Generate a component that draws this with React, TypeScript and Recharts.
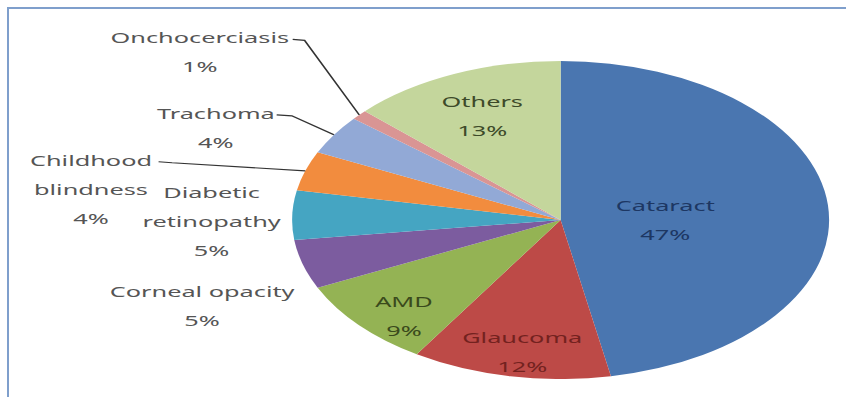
import React from "react";
import { PieChart, Pie, Cell } from "recharts";

// Causes of blindness, share of total (%), clockwise from 12 o'clock
const causes = [
  "Cataract",
  "Glaucoma",
  "AMD",
  "Corneal opacity",
  "Diabetic retinopathy",
  "Childhood blindness",
  "Trachoma",
  "Onchocerciasis",
  "Others",
];
const shares = [47, 12, 9, 5, 5, 4, 4, 1, 13];

const sliceColors = [
  "#4a76b0",
  "#bd4a47",
  "#94b354",
  "#7c5c9f",
  "#45a5c2",
  "#f28c3e",
  "#92a9d6",
  "#d99594",
  "#c4d69c",
];

// Label styling / placement per slice: radius factor, angle shift from the slice middle,
// line breaks, text colour, and (for outside labels) where the leader leaves the text.
const labelLayout = [
  { r: 0.39, shift: -5, lines: ["Cataract"], color: "#1d3763" },
  { r: 0.84, shift: 1, lines: ["Glaucoma"], color: "#73221f" },
  { r: 0.84, shift: 4.6, lines: ["AMD"], color: "#3a4a1c" },
  { r: 1.44, shift: 5.8, lines: ["Corneal opacity"], color: "#555" },
  { r: 1.3, shift: 2.1, lines: ["Diabetic", "retinopathy"], color: "#555" },
  { r: 1.76, shift: 11.6, lines: ["Childhood", "blindness"], color: "#555", lead: 40, run: 8 },
  { r: 1.41, shift: 8, lines: ["Trachoma"], color: "#555", lead: 36, run: 9 },
  { r: 1.71, shift: 3.2, lines: ["Onchocerciasis"], color: "#555", lead: 55, run: 7 },
  { r: 0.72, shift: 0.5, lines: ["Others"], color: "#3d4a29" },
];

const data = causes.map((name, i) => ({ name, value: shares[i] }));

const RAD = Math.PI / 180;
const LINE_H = 29;
const STRETCH = 846 / 501;

const renderLabel = (props: any) => {
  const { cx, cy, midAngle, outerRadius, index } = props;
  const lay = labelLayout[index];
  const a = (midAngle + lay.shift) * RAD;
  const x = cx + outerRadius * lay.r * Math.cos(a);
  const y = cy - outerRadius * lay.r * Math.sin(a);
  const rows = [...lay.lines, `${shares[index]}%`];
  const top = y - ((rows.length - 1) * LINE_H) / 2;

  let leader = null;
  if (lay.lead) {
    const ex = cx + outerRadius * Math.cos(midAngle * RAD);
    const ey = cy - outerRadius * Math.sin(midAngle * RAD);
    const sx = x + lay.lead;
    leader = (
      <polyline
        points={`${sx},${top + 2} ${sx + lay.run},${top + 3} ${ex},${ey}`}
        fill="none"
        stroke="#333"
        strokeWidth={1.1}
      />
    );
  }

  return (
    <g>
      {leader}
      {rows.map((t, k) => (
        <text
          key={k}
          x={x}
          y={top + k * LINE_H}
          textAnchor="middle"
          dominantBaseline="central"
          fill={lay.color}
          fontSize={15}
          fontFamily="'Noto Sans', sans-serif"
        >
          {t}
        </text>
      ))}
    </g>
  );
};

export default function App() {
  return (
    <div
      style={{
        position: "absolute",
        left: 0,
        top: 0,
        width: 846,
        height: 397,
        overflow: "hidden",
        background: "#fff",
      }}
    >
      <div
        style={{
          position: "absolute",
          left: 7,
          top: 7,
          right: 0,
          bottom: 0,
          borderTop: "2px solid #7f9fcc",
          borderLeft: "2px solid #7f9fcc",
        }}
      />
      <div
        style={{
          position: "absolute",
          left: 0,
          top: 0,
          width: 501,
          height: 397,
          transform: `scaleX(${STRETCH})`,
          transformOrigin: "0 0",
        }}
      >
        <PieChart width={501} height={397} margin={{ top: 0, right: 0, bottom: 0, left: 0 }}>
          <Pie
            data={data}
            dataKey="value"
            nameKey="name"
            cx={332}
            cy={220}
            outerRadius={159}
            startAngle={90}
            endAngle={-270}
            stroke="none"
            label={renderLabel}
            labelLine={false}
            isAnimationActive={false}
          >
            {data.map((d, i) => (
              <Cell key={d.name} fill={sliceColors[i]} />
            ))}
          </Pie>
        </PieChart>
      </div>
    </div>
  );
}
